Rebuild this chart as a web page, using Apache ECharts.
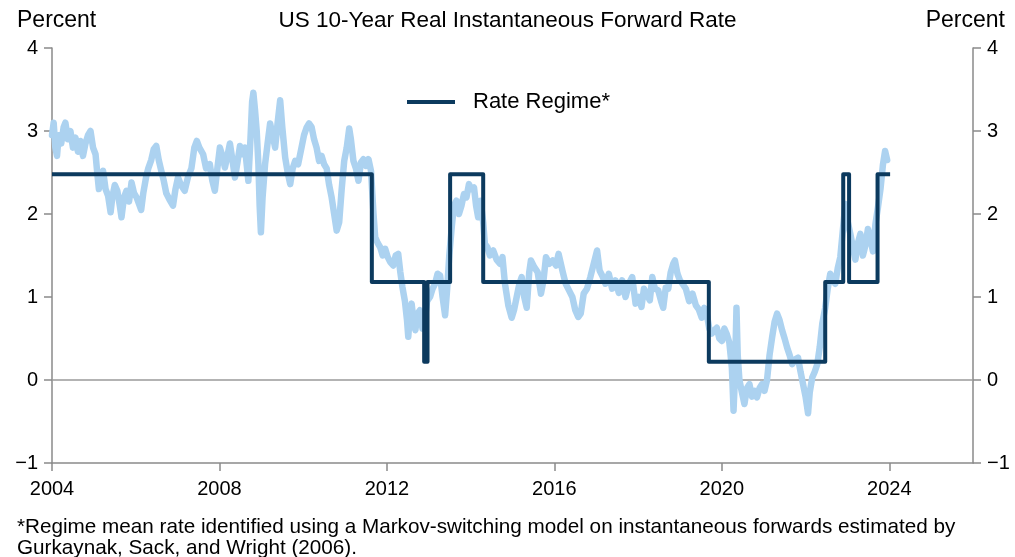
<!DOCTYPE html>
<html>
<head>
<meta charset="utf-8">
<script src="https://cdn.jsdelivr.net/npm/echarts@6/dist/echarts.min.js"></script>
<style>html,body{margin:0;padding:0;background:#fff;}#c{width:1015px;height:557px;}</style>
</head>
<body>
<div id="c"></div>
<script>
var FONT = "'Liberation Sans', Arial, Helvetica, sans-serif";
var titleText = "US 10-Year Real Instantaneous Forward Rate";
var unitLabel = "Percent";
var legendName = "Rate Regime*";
var footnoteLines = [
  "*Regime mean rate identified using a Markov-switching model on instantaneous forwards estimated by",
  "Gurkaynak, Sack, and Wright (2006)."
];
var xTickYears = [2004, 2008, 2012, 2016, 2020, 2024];

// Instantaneous forward rate (decimal year, percent)
var fwdYears = [
2004.00,2004.04,2004.08,2004.12,2004.16,2004.22,2004.28,2004.32,2004.38,2004.44,2004.50,2004.56,2004.62,2004.68,2004.74,2004.80,2004.86,2004.92,2004.98,
2005.04,2005.08,2005.12,2005.16,2005.22,2005.28,2005.34,2005.40,2005.44,2005.50,2005.56,2005.62,2005.66,2005.72,2005.78,2005.84,2005.90,2005.96,
2006.02,2006.08,2006.13,2006.18,2006.25,2006.30,2006.37,2006.43,2006.49,2006.55,2006.61,2006.67,2006.73,2006.80,2006.89,2006.95,
2007.01,2007.08,2007.17,2007.25,2007.33,2007.40,2007.46,2007.52,2007.61,2007.68,2007.77,2007.83,2007.89,2007.95,
2008.01,2008.07,2008.13,2008.19,2008.25,2008.31,2008.37,2008.43,2008.49,2008.55,2008.61,2008.66,2008.69,2008.74,2008.78,2008.81,2008.85,2008.89,2008.93,2008.96,2008.99,
2009.03,2009.09,2009.15,2009.21,2009.27,2009.33,2009.39,2009.45,2009.50,2009.57,2009.63,2009.69,2009.75,2009.81,2009.88,2009.96,
2010.02,2010.08,2010.14,2010.20,2010.26,2010.32,2010.38,2010.44,2010.50,2010.56,2010.62,2010.68,2010.74,2010.80,2010.86,2010.92,2010.98,
2011.04,2011.10,2011.14,2011.20,2011.26,2011.32,2011.38,2011.44,2011.50,2011.56,2011.62,2011.68,2011.72,2011.78,2011.84,2011.90,2011.96,
2012.02,2012.08,2012.15,2012.21,2012.27,2012.32,2012.37,2012.43,2012.48,2012.51,2012.55,2012.59,2012.64,2012.68,2012.73,2012.79,2012.85,2012.90,2012.96,
2013.03,2013.09,2013.15,2013.21,2013.27,2013.33,2013.39,2013.44,2013.49,2013.55,2013.60,2013.66,2013.72,2013.78,2013.84,2013.90,2013.96,
2014.02,2014.08,2014.13,2014.18,2014.24,2014.30,2014.34,2014.40,2014.46,2014.54,2014.62,2014.70,2014.76,2014.82,2014.90,2014.98,
2015.04,2015.10,2015.16,2015.22,2015.28,2015.34,2015.40,2015.44,2015.52,2015.60,2015.68,2015.74,2015.80,2015.88,2015.96,
2016.04,2016.10,2016.14,2016.20,2016.27,2016.35,2016.43,2016.50,2016.57,2016.63,2016.70,2016.78,2016.86,2016.94,
2017.02,2017.08,2017.15,2017.22,2017.30,2017.38,2017.46,2017.54,2017.62,2017.70,2017.78,2017.86,2017.94,
2018.02,2018.08,2018.14,2018.20,2018.28,2018.34,2018.40,2018.48,2018.55,2018.60,2018.66,2018.72,2018.78,2018.84,2018.88,2018.94,
2019.00,2019.06,2019.14,2019.22,2019.30,2019.38,2019.45,2019.52,2019.58,2019.64,2019.70,2019.76,2019.82,2019.88,2019.94,
2020.00,2020.06,2020.12,2020.18,2020.24,2020.28,2020.31,2020.35,2020.38,2020.42,2020.48,2020.54,2020.60,2020.66,2020.72,2020.78,2020.84,2020.90,2020.96,
2021.02,2021.08,2021.14,2021.20,2021.26,2021.32,2021.38,2021.44,2021.50,2021.56,2021.62,2021.68,2021.76,2021.82,2021.88,2021.94,
2022.00,2022.06,2022.10,2022.16,2022.22,2022.28,2022.34,2022.40,2022.47,2022.53,2022.59,2022.65,2022.71,2022.77,2022.83,2022.89,2022.95,
2023.01,2023.07,2023.13,2023.19,2023.25,2023.31,2023.37,2023.43,2023.49,2023.55,2023.61,2023.67,2023.73,2023.79,2023.85,2023.90,2023.95
];
var fwdValues = [
2.95,3.10,2.80,2.70,2.95,2.85,3.05,3.10,2.90,3.00,2.80,2.92,2.75,2.88,2.70,2.85,2.95,3.00,2.80,
2.72,2.50,2.30,2.45,2.52,2.30,2.22,2.02,2.20,2.35,2.28,2.10,1.96,2.20,2.28,2.15,2.38,2.25,
2.20,2.12,2.05,2.25,2.45,2.55,2.65,2.78,2.82,2.65,2.52,2.40,2.25,2.18,2.10,2.30,
2.44,2.35,2.28,2.45,2.55,2.80,2.88,2.80,2.72,2.55,2.60,2.40,2.28,2.55,
2.80,2.70,2.56,2.70,2.85,2.65,2.44,2.62,2.82,2.72,2.80,2.55,2.40,2.90,3.35,3.46,3.25,3.00,2.60,2.10,1.78,
2.20,2.60,2.85,3.09,2.95,2.80,3.10,3.37,3.05,2.68,2.50,2.36,2.55,2.64,2.60,2.80,
2.95,3.04,3.09,3.05,2.90,2.80,2.64,2.70,2.60,2.55,2.35,2.20,2.00,1.80,1.90,2.30,2.64,
2.80,3.03,2.90,2.64,2.55,2.40,2.62,2.66,2.58,2.66,2.52,2.00,1.72,1.65,1.60,1.50,1.58,
1.48,1.42,1.38,1.50,1.52,1.30,1.12,0.95,0.72,0.52,0.80,0.92,0.70,0.60,0.80,0.84,0.62,0.70,0.95,
1.00,1.10,1.16,1.28,1.26,1.00,0.78,1.10,1.50,1.85,2.10,2.16,2.00,2.10,2.24,2.20,2.36,
2.30,2.32,2.10,1.96,2.16,1.90,1.64,1.60,1.50,1.56,1.45,1.40,1.48,1.16,0.90,0.75,
0.85,1.00,1.15,1.24,1.00,0.87,1.30,1.44,1.36,1.30,1.04,1.20,1.48,1.40,1.44,
1.38,1.52,1.50,1.30,1.16,1.08,1.00,0.84,0.76,0.80,1.04,1.10,1.24,1.40,
1.56,1.32,1.25,1.16,1.28,1.10,1.20,1.05,1.20,1.00,1.16,1.24,0.92,
1.00,0.88,1.10,1.04,0.96,1.24,1.10,1.08,0.95,0.87,1.11,1.10,1.30,1.40,1.44,1.28,
1.20,1.16,1.10,0.95,1.04,0.90,0.85,0.75,0.87,0.80,0.62,0.56,0.60,0.63,0.50,
0.47,0.62,0.55,0.45,0.15,-0.37,0.00,0.87,0.30,0.00,-0.15,-0.29,-0.10,-0.05,-0.20,-0.13,-0.21,-0.10,-0.05,
-0.13,0.00,0.30,0.51,0.70,0.80,0.72,0.60,0.50,0.39,0.30,0.19,0.25,0.27,0.10,-0.05,
-0.20,-0.40,-0.15,0.03,0.10,0.19,0.40,0.68,0.87,1.10,1.28,1.20,1.16,1.35,1.48,1.80,2.12,
1.90,1.76,1.60,1.45,1.65,1.76,1.50,1.62,1.82,1.70,1.55,1.88,2.08,2.30,2.60,2.76,2.65
];

// Regime mean rate: value holds from each date until the next
var regimeYears  = [2004.00, 2011.64, 2012.89, 2012.97, 2013.51, 2014.30, 2019.69, 2022.47, 2022.90, 2023.04, 2023.72, 2024.02];
var regimeValues = [2.48,    1.18,    0.22,    1.18,    2.48,    1.18,    0.22,    1.18,    2.48,    1.18,    2.48,    2.48];

function zip(a, b) { var r = []; for (var i = 0; i < a.length; i++) r.push([a[i], b[i]]); return r; }
function fmtY(v) { return v < 0 ? '\u2212' + Math.abs(v) : String(v); }

var chart = echarts.init(document.getElementById('c'), null, {renderer: 'canvas'});
var axisColor = '#8a8a8a';
var labelStyle = {color: '#000', fontFamily: FONT, fontSize: 20};

chart.setOption({
  animation: false,
  backgroundColor: '#fff',
  grid: {left: 52, right: 42, top: 48, bottom: 94, containLabel: false},
  legend: {
    data: [{name: legendName, icon: 'rect'}],
    left: 402, top: 86,
    itemWidth: 48, itemHeight: 4,
    textStyle: {color: '#000', fontFamily: FONT, fontSize: 22, padding: [0, 0, 0, 13]}
  },
  xAxis: {
    type: 'value', min: 2004, max: 2026, interval: 4,
    axisLine: {show: true, onZero: false, lineStyle: {color: axisColor, width: 1.5}},
    axisTick: {show: true, length: 8, lineStyle: {color: axisColor, width: 1.5}, customValues: xTickYears},
    axisLabel: Object.assign({margin: 16, customValues: xTickYears, formatter: function (v) { return String(v); }}, labelStyle),
    splitLine: {show: false}
  },
  yAxis: [{
    type: 'value', min: -1, max: 4, interval: 1, position: 'left',
    axisLine: {show: true, lineStyle: {color: axisColor, width: 1.5}},
    axisTick: {show: true, length: 8, lineStyle: {color: axisColor, width: 1.5}},
    axisLabel: Object.assign({margin: 14, formatter: fmtY}, labelStyle),
    splitLine: {show: false}
  }, {
    type: 'value', min: -1, max: 4, interval: 1, position: 'right',
    axisLine: {show: true, lineStyle: {color: axisColor, width: 1.5}},
    axisTick: {show: true, length: 8, lineStyle: {color: axisColor, width: 1.5}},
    axisLabel: Object.assign({margin: 14, formatter: fmtY}, labelStyle),
    splitLine: {show: false}
  }],
  series: [{
    name: 'Forward Rate',
    type: 'line',
    data: zip(fwdYears, fwdValues),
    showSymbol: false,
    lineStyle: {color: '#acd2f0', width: 6.5, join: 'round', cap: 'round'},
    itemStyle: {color: '#acd2f0'},
    z: 2,
    markLine: {
      silent: true, symbol: 'none', label: {show: false},
      lineStyle: {color: '#9a9a9a', width: 1.5, type: 'solid'},
      data: [{yAxis: 0}],
      z: 1
    }
  }, {
    name: legendName,
    type: 'line',
    step: 'end',
    data: zip(regimeYears, regimeValues),
    showSymbol: false,
    lineStyle: {color: '#0c3a5e', width: 4, join: 'round'},
    itemStyle: {color: '#0c3a5e'},
    z: 3
  }],
  graphic: [
    {type: 'text', left: 17, top: 9, style: {text: unitLabel, fill: '#000', font: '23px ' + FONT}},
    {type: 'text', right: 10, top: 9, style: {text: unitLabel, fill: '#000', font: '23px ' + FONT}},
    {type: 'text', left: 'center', top: 9, style: {text: titleText, fill: '#000', font: '22.5px ' + FONT}},
    {type: 'text', left: 17, top: 517, style: {text: footnoteLines.join('\n'), fill: '#000', font: '20.7px ' + FONT, lineHeight: 21}}
  ]
});
</script>
</body>
</html>
